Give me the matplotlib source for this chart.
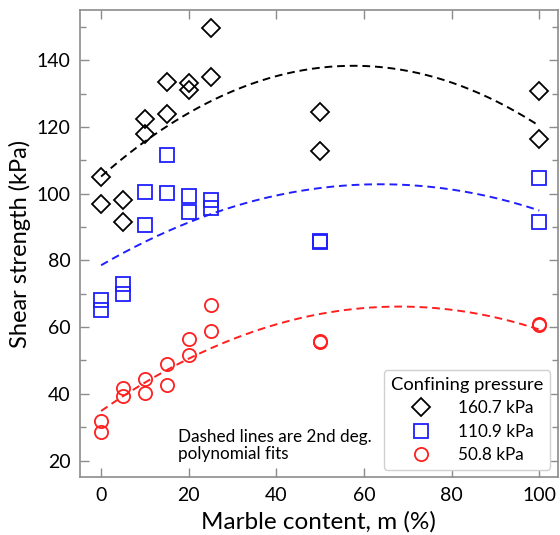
import numpy as np
import matplotlib
matplotlib.use('Agg')
import matplotlib.pyplot as plt
from matplotlib.ticker import MultipleLocator

plt.rcParams['font.family'] = ['Lato', 'DejaVu Sans']

# marble content (%) and shear strength (kPa) for each confining pressure
x_160 = [0, 0, 5, 5, 10, 10, 15, 15, 20, 20, 25, 25, 50, 50, 100, 100]
y_160 = [105.0, 97.0, 98.0, 91.5, 122.5, 117.8, 133.5, 124.0, 133.3, 131.2,
         149.8, 135.0, 124.5, 112.7, 130.8, 116.5]

x_111 = [0, 0, 5, 5, 10, 10, 15, 15, 20, 20, 25, 25, 50, 50, 100, 100]
y_111 = [68.0, 65.2, 72.8, 70.0, 100.5, 90.5, 111.5, 100.2, 99.2, 94.5,
         98.0, 95.8, 85.5, 85.7, 104.7, 91.5]

x_51 = [0, 0, 5, 5, 10, 10, 15, 15, 20, 20, 25, 25, 50, 50, 100, 100]
y_51 = [32.0, 28.5, 41.8, 39.3, 44.3, 40.2, 49.0, 42.7, 56.5, 51.5,
        66.7, 58.8, 55.5, 55.9, 60.5, 60.8]

labels = ['160.7 kPa', '110.9 kPa', '50.8 kPa']
colors = ['black', '#1f1fff', '#ff1f1f']
markers = ['D', 's', 'o']
sizes = [9.5, 9.5, 9.5]

fig = plt.figure(figsize=(5.6, 5.35), dpi=100)
ax = fig.add_axes([0.143, 0.108, 0.853, 0.873])

series = [(x_160, y_160), (x_111, y_111), (x_51, y_51)]
xfit = np.linspace(0, 100, 200)
for (xs, ys), lab, c, m, s in zip(series, labels, colors, markers, sizes):
    ax.plot(xs, ys, linestyle='none', marker=m, markersize=s,
            markerfacecolor='none', markeredgecolor=c, markeredgewidth=1.3,
            label=lab)
    # 2nd degree polynomial fit
    p = np.polyfit(xs, ys, 2)
    ax.plot(xfit, np.polyval(p, xfit), color=c, linestyle=(0, (4, 2.5)),
            linewidth=1.4)

ax.set_xlim(-4.8, 104.2)
ax.set_ylim(15, 155)
ax.xaxis.set_major_locator(MultipleLocator(20))
ax.yaxis.set_major_locator(MultipleLocator(20))
ax.yaxis.set_minor_locator(MultipleLocator(10))

for sp in ax.spines.values():
    sp.set_color('#8c8c8c')
    sp.set_linewidth(1.2)
ax.tick_params(which='both', direction='in', top=True, right=True,
               color='#8c8c8c', labelsize=14, pad=7)
ax.tick_params(which='major', length=6.5, width=1)
ax.tick_params(which='minor', length=4.5, width=1)

ax.set_xlabel('Marble content, m (%)', fontsize=17.5, labelpad=5)
ax.set_ylabel('Shear strength (kPa)', fontsize=17, labelpad=4)

ax.text(17.5, 24.5, 'Dashed lines are 2nd deg.\npolynomial fits', fontsize=12.3,
        ha='left', va='center', linespacing=1.05)

leg = ax.legend(title='Confining pressure', loc='lower right',
                fontsize=12.3, title_fontsize=13.2, frameon=True,
                fancybox=True, edgecolor='#d0d0d0', framealpha=1,
                borderaxespad=0.45, borderpad=0.4, handletextpad=1.0,
                labelspacing=0.42, markerfirst=True, handlelength=2.4)
leg.get_frame().set_linewidth(1)

plt.savefig('out.png', dpi=100)
